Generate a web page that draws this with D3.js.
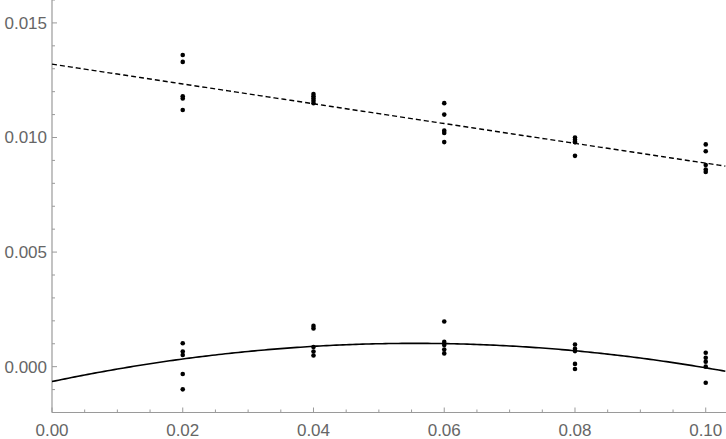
<!DOCTYPE html>
<html><head><meta charset="utf-8">
<script src="https://cdn.jsdelivr.net/npm/d3@7"></script>
<style>body{margin:0;background:#fff}svg{display:block}</style>
</head><body>
<svg id="c" width="726" height="439"></svg>
<script>
const doses = [0.02, 0.04, 0.06, 0.08, 0.10];
const upperValues = [
  [0.0136, 0.0133, 0.0118, 0.0117, 0.0112],
  [0.0119, 0.0118, 0.0117, 0.0116, 0.0115],
  [0.0115, 0.0110, 0.0103, 0.0102, 0.0098],
  [0.0100, 0.0099, 0.0098, 0.0098, 0.0092],
  [0.0097, 0.0094, 0.0088, 0.0086, 0.0085]
];
const lowerValues = [
  [0.00102, 0.00066, 0.00051, -0.00032, -0.00099],
  [0.00178, 0.00167, 0.00086, 0.00066, 0.00049],
  [0.00197, 0.00108, 0.00095, 0.00075, 0.00058],
  [0.00097, 0.00078, 0.00068, 0.00012, -0.00010],
  [0.00061, 0.00039, 0.00022, 0.00000, -0.00070]
];
const linearFit = [0.0132, -0.0432];            // a + b x
const quadFit = [-0.00065, 0.06, -0.54];       // a + b x + c x^2
const xTicks = [0, 0.02, 0.04, 0.06, 0.08, 0.10];
const yTicks = [0, 0.005, 0.010, 0.015];

const svg = d3.select('#c');
const x = d3.scaleLinear().domain([0, 0.1031]).range([52, 726]);
const y = d3.scaleLinear().domain([-0.002, 0.016]).range([412.5, 0]);

const axisColor = '#9a9a9a', labelColor = '#666';
const font = 'Liberation Sans, Arial, sans-serif';

// axes lines
svg.append('line').attr('x1', x(0)).attr('x2', 726).attr('y1', y(-0.002)).attr('y2', y(-0.002))
  .attr('stroke', axisColor).attr('stroke-width', 1.2);
svg.append('line').attr('x1', x(0)).attr('x2', x(0)).attr('y1', 0).attr('y2', y(-0.002))
  .attr('stroke', axisColor).attr('stroke-width', 1.2);

// x ticks
const xMinor = d3.range(0, 0.1031, 0.005);
svg.selectAll('.xt').data(xMinor).enter().append('line')
  .attr('x1', d => x(d)).attr('x2', d => x(d))
  .attr('y1', y(-0.002)).attr('y2', d => y(-0.002) - (Math.abs(d / 0.02 - Math.round(d / 0.02)) < 1e-6 ? 5 : 3))
  .attr('stroke', axisColor);
svg.selectAll('.xl').data(xTicks).enter().append('text')
  .attr('x', d => x(d)).attr('y', 436).attr('text-anchor', 'middle')
  .attr('font-family', font).attr('font-size', 17).attr('fill', labelColor)
  .text(d => d3.format('.2f')(d));

// y ticks
const yMinor = d3.range(-0.001, 0.0161, 0.001);
svg.selectAll('.yt').data(yMinor).enter().append('line')
  .attr('x1', x(0)).attr('x2', d => x(0) + (Math.abs(d / 0.005 - Math.round(d / 0.005)) < 1e-6 ? 5 : 3))
  .attr('y1', d => y(d)).attr('y2', d => y(d))
  .attr('stroke', axisColor);
svg.selectAll('.yl').data(yTicks).enter().append('text')
  .attr('x', 47).attr('y', d => y(d)).attr('dy', '0.35em').attr('text-anchor', 'end')
  .attr('font-family', font).attr('font-size', 17).attr('fill', labelColor)
  .text(d => d3.format('.3f')(d));

// fit lines
const xs = d3.range(0, 0.1032, 0.0005);
const line = d3.line().x(d => x(d[0])).y(d => y(d[1]));
svg.append('path')
  .attr('d', line(xs.map(v => [v, linearFit[0] + linearFit[1] * v])))
  .attr('fill', 'none').attr('stroke', '#000').attr('stroke-width', 1.4).attr('stroke-dasharray', '5,3');
svg.append('path')
  .attr('d', line(xs.map(v => [v, quadFit[0] + quadFit[1] * v + quadFit[2] * v * v])))
  .attr('fill', 'none').attr('stroke', '#000').attr('stroke-width', 1.6);

// points
const pts = [];
doses.forEach((d, i) => {
  upperValues[i].forEach(v => pts.push([d, v]));
  lowerValues[i].forEach(v => pts.push([d, v]));
});
svg.selectAll('.pt').data(pts).enter().append('circle')
  .attr('cx', d => x(d[0])).attr('cy', d => y(d[1])).attr('r', 2.3).attr('fill', '#000');
</script>
</body></html>
